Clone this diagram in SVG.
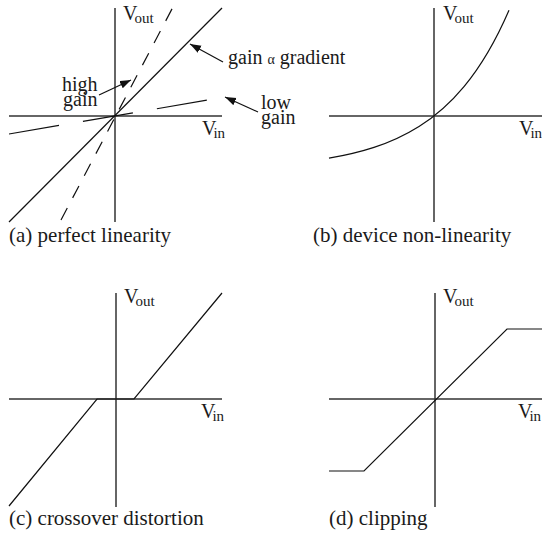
<svg xmlns="http://www.w3.org/2000/svg" width="542" height="542" viewBox="0 0 542 542">
<style>
.ax{stroke:#333;stroke-width:1.5;fill:none}
.ln{stroke:#111;stroke-width:1.2;fill:none}
text{font-family:"Liberation Serif","Times New Roman",serif;fill:#1a1a1a;font-size:20px}
.sub{font-size:15px}
.cap{font-size:21px}
.al{stroke:#111;stroke-width:1.2;fill:none}
</style>
<defs>
<marker id="ah" markerUnits="userSpaceOnUse" markerWidth="12" markerHeight="10" refX="11" refY="4" orient="auto">
<path d="M0,0 L11,4 L0,8 Z" fill="#111"/>
</marker>
</defs>
<rect width="542" height="542" fill="#fff"/>

<g id="panel-a">
<line class="ax" x1="115" y1="8" x2="115" y2="222"/>
<line class="ax" x1="9" y1="116" x2="222" y2="116"/>
<line class="ln" x1="9" y1="222" x2="222" y2="8"/>
<line class="ln" x1="61" y1="220" x2="173" y2="7" stroke-dasharray="13.5 11.5"/>
<line class="ln" x1="9" y1="134" x2="208" y2="100" stroke-dasharray="50.7 24.3"/>
<text x="123" y="20">V<tspan class="sub" dx="-3" dy="3">out</tspan></text>
<text x="202" y="135">V<tspan class="sub" dx="-3" dy="3">in</tspan></text>
<text x="62" y="91">high</text>
<text x="63" y="106">gain</text>
<text x="228" y="64">gain <tspan font-size="14">α</tspan> gradient</text>
<text x="261" y="109">low</text>
<text x="261" y="124">gain</text>
<text class="cap" x="9" y="242">(a) perfect linearity</text>
</g>

<g id="panel-b">
<line class="ax" x1="434" y1="8" x2="434" y2="222"/>
<line class="ax" x1="329" y1="116" x2="542" y2="116"/>
<path class="ln" d="M329,158.2 C344,155.6 359,152.3 374,147.4 C389,142.5 404,135.9 419,126.5 C434,117.1 449,104.7 464,86.6 C479,68.5 494,44.9 509,10.2"/>
<text x="443" y="20">V<tspan class="sub" dx="-3" dy="3">out</tspan></text>
<text x="519" y="135">V<tspan class="sub" dx="-3" dy="3">in</tspan></text>
<text class="cap" x="313" y="242">(b) device non-linearity</text>
</g>

<g id="panel-c">
<line class="ax" x1="116" y1="293" x2="116" y2="507"/>
<line class="ax" x1="9" y1="399" x2="222" y2="399"/>
<polyline class="ln" points="9,506 97,399 134,399 222,293" stroke-width="1.4"/>
<text x="124" y="303">V<tspan class="sub" dx="-3" dy="3">out</tspan></text>
<text x="201" y="418">V<tspan class="sub" dx="-3" dy="3">in</tspan></text>
<text class="cap" x="9" y="525">(c) crossover distortion</text>
</g>

<g id="panel-d">
<line class="ax" x1="435" y1="293" x2="435" y2="507"/>
<line class="ax" x1="329" y1="399" x2="542" y2="399"/>
<polyline class="ln" points="329,471 364,471 507,329 542,329"/>
<text x="443" y="303">V<tspan class="sub" dx="-3" dy="3">out</tspan></text>
<text x="518" y="418">V<tspan class="sub" dx="-3" dy="3">in</tspan></text>
<text class="cap" x="329" y="525">(d) clipping</text>
</g>

<g id="connectors">
<line class="al" x1="223" y1="62" x2="190" y2="44" marker-end="url(#ah)"/>
<line class="al" x1="99" y1="95" x2="131" y2="80" marker-end="url(#ah)"/>
<line class="al" x1="258" y1="112" x2="225" y2="97" marker-end="url(#ah)"/>
</g>
</svg>
